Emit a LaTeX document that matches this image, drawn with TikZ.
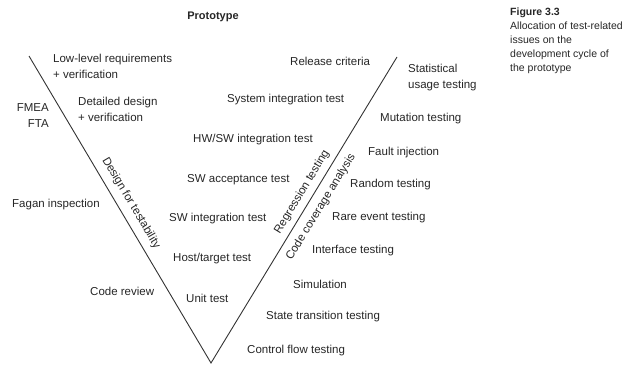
\documentclass[tikz,border=0pt]{standalone}
\usepackage{fontspec}
\setmainfont{Liberation Sans}
\begin{document}
\begin{tikzpicture}[x=1pt,y=-1pt,
  lbl/.style={inner sep=0pt,anchor=west,font=\fontsize{11.5}{16}\selectfont,text=black!85},
  ctr/.style={inner sep=0pt,font=\fontsize{11.5}{16}\selectfont,text=black!85},
  captext/.style={inner sep=0pt,anchor=north west,align=left,font=\fontsize{10.5}{13.8}\selectfont,text=black!85},
  vline/.style={draw=black!80,line width=0.9pt}]
\useasboundingbox (0,0) rectangle (637,364);
\coordinate (lt) at (29,56);
\coordinate (bot) at (211,363);
\coordinate (rt) at (397,57);
\draw[vline] (lt) -- (bot) -- (rt);

\node[ctr,font=\bfseries\fontsize{11}{13}\selectfont] (proto) at (213,17) {Prototype};
\node[captext] (fig) at (510,8) {\textbf{Figure 3.3}\\Allocation of test-related\\issues on the\\development cycle of\\the prototype};

% left side
\node[lbl,align=left,anchor=north west] (llr) at (53,54) {Low-level requirements\\+ verification};
\node[lbl,align=left,anchor=north west] (dd) at (78,97) {Detailed design\\+ verification};
\node[ctr,align=right,anchor=north east] (fmea) at (49,103) {FMEA\\FTA};
\node[lbl] (fagan) at (12,205) {Fagan inspection};
\node[lbl] (code) at (90,291) {Code review};
\node[ctr,rotate=-59.3] (dft) at (131,203) {Design for testability};

% inner V
\node[lbl] (rel) at (290,61) {Release criteria};
\node[lbl] (sit) at (227,100) {System integration test};
\node[lbl] (hwsw) at (193,140) {HW/SW integration test};
\node[lbl] (swacc) at (187,180) {SW acceptance test};
\node[lbl] (swint) at (169,219) {SW integration test};
\node[lbl] (host) at (173,259) {Host/target test};
\node[lbl] (unit) at (186,298) {Unit test};
\node[ctr,rotate=58.7] (regr) at (302,192) {Regression testing};

% right side
\node[ctr,rotate=58.7] (cca) at (321,207) {Code coverage analysis};
\node[lbl,align=left,anchor=north west] (stat) at (408,64) {Statistical\\usage testing};
\node[lbl] (mut) at (380,119) {Mutation testing};
\node[lbl] (fault) at (368,153) {Fault injection};
\node[lbl] (rand) at (350,185) {Random testing};
\node[lbl] (rare) at (332,218) {Rare event testing};
\node[lbl] (intf) at (312,251) {Interface testing};
\node[lbl] (sim) at (293,284) {Simulation};
\node[lbl] (state) at (266,317) {State transition testing};
\node[lbl] (cflow) at (247,351) {Control flow testing};
\end{tikzpicture}
\end{document}
